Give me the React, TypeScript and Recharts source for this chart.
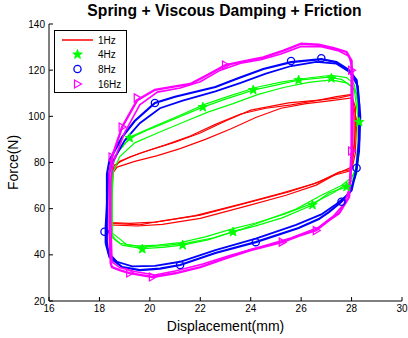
import { ComposedChart, Line, XAxis, YAxis, Legend } from "recharts";

const FONT = "Arial, 'Liberation Sans', sans-serif";

const xTicks = [16, 18, 20, 22, 24, 26, 28, 30];
const yTicks = [20, 40, 60, 80, 100, 120, 140];

// 1Hz - three overlapping cycles
const red1 = [
  [18.4, 53.8], [18.4, 62], [18.45, 70], [18.5, 76], [18.6, 79], [19.2, 82.4], [20, 85.4], [21, 88.8],
  [22, 92.8], [23, 98], [24, 102.7], [25.5, 105.8], [26.7, 107], [27.5, 108], [28, 109.2], [28.15, 104],
  [28.15, 95], [28.1, 86], [28, 77], [27.5, 75.9], [26.7, 71.5], [25.5, 67.2], [24, 62.9], [22, 57.2],
  [20, 53.8], [19.6, 53], [18.9, 53.4], [18.4, 53.8],
];
const red2 = [
  [18.4, 53], [18.45, 65], [18.5, 75], [18.7, 78], [19.4, 80.5], [20.3, 83], [21.2, 86], [22.2, 90],
  [23.2, 94.5], [24.2, 99.5], [25.2, 103.5], [26.2, 105.5], [27.2, 106.8], [28, 108], [28.1, 100],
  [28.1, 88], [28, 78], [27.4, 75], [26.6, 70.2], [25.4, 65.8], [23.9, 61.3], [22, 55.8], [20.5, 53.2],
  [19.5, 52.5], [18.4, 53],
];
const red3 = [
  [18.45, 54], [18.5, 68], [18.55, 77], [18.8, 80.5], [19.6, 84], [20.6, 87.5], [21.6, 91.5], [22.6, 96.5],
  [23.6, 101], [24.6, 103.5], [25.6, 105], [26.6, 106.8], [27.4, 108.5], [28, 109.5], [28.2, 98],
  [28.15, 84], [28, 76.5], [27.3, 74.5], [26.5, 70.8], [25.2, 66.6], [23.6, 62], [21.8, 57], [20.2, 54.2],
  [19.2, 53.6], [18.45, 54],
];

// 4Hz
const green1 = [
  [18.5, 48.6], [18.5, 60], [18.5, 72], [18.5, 78], [18.7, 84], [19.2, 90.6], [20, 94.5], [21, 99],
  [22.1, 104], [23, 107.5], [24.1, 111.4], [25, 113.5], [25.9, 115.7], [27.1, 117], [27.6, 116], [28, 113],
  [28.2, 110], [28.3, 98], [28.3, 85], [28.2, 75], [28, 72], [27.8, 69.4], [27.1, 66.8], [26.45, 61.6],
  [25.25, 56], [24.2, 52.5], [23.3, 49.9], [22.3, 46.5], [21.3, 44.2], [20.5, 43.2], [19.7, 42.7],
  [18.9, 44.2], [18.6, 47], [18.5, 48.6],
];
const green2 = [
  [18.5, 47.5], [18.5, 65], [18.55, 76], [18.8, 82.5], [19.4, 88.5], [20.3, 92.8], [21.3, 97.3],
  [22.3, 101.8], [23.3, 105.5], [24.3, 109.5], [25.3, 112.5], [26.3, 114.7], [27.2, 115.8], [27.8, 114.5],
  [28.1, 112], [28.25, 100], [28.25, 88], [28.15, 76], [27.9, 71.5], [27.3, 67], [26.5, 62.5], [25.3, 57.5],
  [24.2, 53.8], [23.2, 51], [22.2, 47.8], [21.2, 45.3], [20.3, 44.2], [19.5, 43.8], [18.8, 45], [18.5, 47.5],
];
const green3 = [
  [18.5, 49.5], [18.45, 70], [18.5, 79], [18.8, 85.8], [19.3, 91.5], [20.2, 95.8], [21.2, 100.5],
  [22.2, 105.3], [23.2, 109], [24.2, 112.5], [25.2, 114.8], [26.2, 116.5], [27.2, 117.8], [27.8, 116.8],
  [28.1, 114], [28.3, 104], [28.3, 90], [28.2, 78], [28, 73.5], [27.6, 70], [26.8, 65.8], [25.8, 59.8],
  [24.6, 55], [23.6, 51], [22.5, 47.3], [21.5, 45.2], [20.6, 44], [19.8, 43.5], [19.1, 44.3], [18.5, 49.5],
];

// 8Hz
const blue1 = [
  [18.25, 45], [18.25, 52], [18.3, 62], [18.3, 75], [18.4, 81], [18.9, 91], [19.4, 98], [20.2, 105.8],
  [21, 108.5], [22.6, 112.7], [23.5, 116.5], [24.5, 120.5], [25.6, 123.5], [26.8, 124.8], [27.4, 123.5],
  [27.9, 120], [28.2, 115.7], [28.3, 105], [28.3, 90], [28.2, 77.6], [28, 68], [27.6, 63], [27.1, 58.5],
  [26.7, 55.5], [25.9, 51.6], [24.2, 45.5], [22.6, 40.8], [21.2, 35.6], [20.4, 34], [19.6, 33.4],
  [18.9, 34.7], [18.4, 39], [18.25, 45],
];
const blue2 = [
  [18.3, 46], [18.3, 60], [18.35, 74], [18.5, 80], [19, 89.5], [19.6, 97], [20.4, 103.5], [21.3, 106.8],
  [22.6, 110.8], [23.6, 114.5], [24.6, 118.5], [25.6, 121.8], [26.6, 123.6], [27.4, 122.8], [27.95, 119],
  [28.25, 113], [28.35, 100], [28.3, 85], [28.15, 74], [27.9, 66.5], [27.4, 62], [26.8, 57.5], [25.8, 53],
  [24.2, 47], [22.6, 42], [21.2, 37], [20.2, 35.2], [19.3, 35], [18.7, 37], [18.35, 41], [18.3, 46],
];

// 16Hz
const mag1 = [
  [18.45, 36], [18.4, 50], [18.4, 65], [18.4, 75.4], [18.5, 82.4], [18.9, 95.4], [19.5, 107], [20.2, 111.5],
  [21, 113], [21.6, 114], [22.3, 118], [23, 122.2], [23.8, 124], [24.5, 125.5], [25.3, 128.5], [26, 131.5],
  [26.7, 131], [27.3, 129.5], [27.8, 127.9], [28, 124], [28, 110], [28, 95], [28, 85.4], [27.95, 75],
  [27.9, 65], [27.5, 58], [27.1, 55], [26.6, 50.7], [25.9, 48.2], [25.25, 45.5], [24, 42.1], [23, 38.5],
  [22, 34.7], [21, 32], [20.1, 30.4], [19.2, 32.1], [18.8, 33.4], [18.5, 34.7], [18.45, 36],
];
const mag2 = [
  [18.5, 37], [18.45, 55], [18.45, 72], [18.55, 80], [19, 93], [19.6, 105], [20.3, 110.5], [21.2, 112.3],
  [22, 115], [22.8, 120], [23.6, 123], [24.4, 124.5], [25.2, 127], [26, 130.3], [26.8, 130.2], [27.5, 128.3],
  [27.9, 126], [28.05, 120], [28.05, 100], [28.02, 82], [27.95, 70], [27.7, 62], [27.3, 57], [26.7, 52],
  [25.6, 47.3], [24.4, 43.5], [23.2, 39.8], [22.1, 36], [21, 33], [20.2, 31.3], [19.4, 32.8], [18.8, 34.5],
  [18.5, 37],
];

// marker positions
const greenStars = [
  [19.2, 90.6], [22.1, 104], [24.1, 111.4], [25.9, 115.7], [27.2, 116.5], [28.3, 97.5], [27.8, 69.4],
  [26.45, 61.6], [23.3, 49.9], [21.3, 44.2], [19.7, 42.5],
];
const blueCircles = [
  [18.2, 50], [20.2, 105.8], [25.6, 124], [26.8, 125.2], [28.2, 77.6], [27.6, 63], [24.2, 45.5], [21.2, 35.6],
];
const magTriangles = [
  [18.5, 82.4], [18.9, 95.4], [19.5, 108], [23, 122.2], [28, 120], [28, 85], [26.6, 50.5], [25.25, 45.5],
  [20.1, 30.4], [19.2, 32.1],
];

const toPts = (arr: number[][]) => arr.map(([x, y]) => ({ x, y }));

const starPath = (cx: number, cy: number, r: number) => {
  let d = "";
  for (let i = 0; i < 10; i++) {
    const rr = i % 2 === 0 ? r : r * 0.42;
    const a = -Math.PI / 2 + (i * Math.PI) / 5;
    d += `${i === 0 ? "M" : "L"}${cx + rr * Math.cos(a)},${cy + rr * Math.sin(a)}`;
  }
  return d + "Z";
};

const Star = ({ cx, cy }: any) => (
  <path d={starPath(cx, cy, 5)} fill="#00ff00" stroke="#00ff00" strokeWidth={0.8} />
);
const Circ = ({ cx, cy }: any) => (
  <circle cx={cx} cy={cy} r={3.6} fill="none" stroke="#0000ff" strokeWidth={1.3} />
);
const Tri = ({ cx, cy }: any) => (
  <path d={`M${cx - 3},${cy - 4}L${cx + 4},${cy}L${cx - 3},${cy + 4}Z`} fill="none" stroke="#ff00ff" strokeWidth={1.2} />
);

const loops = [
  { key: "r1", data: red1, color: "#ff0000", w: 1.2 },
  { key: "r2", data: red2, color: "#ff0000", w: 1.2 },
  { key: "r3", data: red3, color: "#ff0000", w: 1.2 },
  { key: "g1", data: green1, color: "#00ff00", w: 1.3 },
  { key: "g2", data: green2, color: "#00ff00", w: 1.2 },
  { key: "g3", data: green3, color: "#00ff00", w: 1.2 },
  { key: "b1", data: blue1, color: "#0000ff", w: 2.2 },
  { key: "b2", data: blue2, color: "#0000ff", w: 1.8 },
  { key: "m1", data: mag1, color: "#ff00ff", w: 2.4 },
  { key: "m2", data: mag2, color: "#ff00ff", w: 1.6 },
];

const markerSets = [
  { key: "gs", data: greenStars, Shape: Star },
  { key: "bc", data: blueCircles, Shape: Circ },
  { key: "mt", data: magTriangles, Shape: Tri },
];

const LegendBox = () => (
  <svg width={73} height={63} style={{ display: "block" }}>
    <rect x={0.5} y={0.5} width={72} height={62} fill="#fff" stroke="#000" />
    <g fontFamily={FONT} fontSize={10} fill="#000">
      <line x1={8} x2={39} y1={10} y2={10} stroke="#ff0000" strokeWidth={1.5} />
      <text x={44} y={13.5}>1Hz</text>
      <Star cx={23.5} cy={24.5} />
      <text x={44} y={28}>4Hz</text>
      <Circ cx={23.5} cy={39} />
      <text x={44} y={42.5}>8Hz</text>
      <Tri cx={23.5} cy={54} />
      <text x={44} y={57.5}>16Hz</text>
    </g>
  </svg>
);

export default function App() {
  return (
    <div style={{ position: "absolute", left: 0, top: 0, width: 408, height: 338, background: "#fff" }}>
      <div
        style={{
          position: "absolute", left: 0, top: 2, width: 449, textAlign: "center",
          fontFamily: FONT, fontWeight: "bold", fontSize: 15.7, lineHeight: "18px", color: "#000",
        }}
      >
        Spring + Viscous Damping + Friction
      </div>
      <ComposedChart width={408} height={338} margin={{ top: 24, right: 6, bottom: 0, left: 0 }}>
        <XAxis
          xAxisId="b" type="number" dataKey="x" domain={[16, 30]} ticks={xTicks} interval={0}
          allowDataOverflow height={37} stroke="#000" tickSize={-4} tickMargin={8}
          tick={{ fill: "#000", fontSize: 10, fontFamily: FONT }}
          label={{ value: "Displacement(mm)", position: "insideBottom", offset: 7, fill: "#000", fontSize: 14, fontFamily: FONT }}
        />
        <XAxis
          xAxisId="t" orientation="top" type="number" dataKey="x" domain={[16, 30]} ticks={xTicks}
          interval={0} height={0} stroke="#000" tickSize={-4} tick={false}
        />
        <YAxis
          yAxisId="l" type="number" dataKey="y" domain={[20, 140]} ticks={yTicks} interval={0}
          allowDataOverflow width={49} stroke="#000" tickSize={-4} tickMargin={8}
          tick={{ fill: "#000", fontSize: 10, fontFamily: FONT }}
          label={{
            value: "Force(N)", angle: -90, position: "insideLeft", offset: 13, fill: "#000",
            fontSize: 14, fontFamily: FONT, style: { textAnchor: "middle" },
          }}
        />
        <YAxis
          yAxisId="r" orientation="right" type="number" dataKey="y" domain={[20, 140]} ticks={yTicks}
          interval={0} width={0} stroke="#000" tickSize={-4} tick={false}
        />
        {loops.map((l) => (
          <Line
            key={l.key} xAxisId="b" yAxisId="l" data={toPts(l.data)} dataKey="y" type="linear"
            stroke={l.color} strokeWidth={l.w} dot={false} activeDot={false}
            isAnimationActive={false} legendType="none"
          />
        ))}
        {markerSets.map(({ key, data, Shape }) => (
          <Line
            key={key} xAxisId="b" yAxisId="l" data={toPts(data)} dataKey="y" stroke="none"
            dot={(p: any) => <Shape key={`${key}${p.index}`} cx={p.cx} cy={p.cy} />}
            activeDot={false} isAnimationActive={false} legendType="none"
          />
        ))}
        <Legend
          layout="horizontal" verticalAlign="middle" align="center"
          wrapperStyle={{ left: 54, top: 30, width: 73, height: 63 }}
          content={() => <LegendBox />}
        />
      </ComposedChart>
    </div>
  );
}
